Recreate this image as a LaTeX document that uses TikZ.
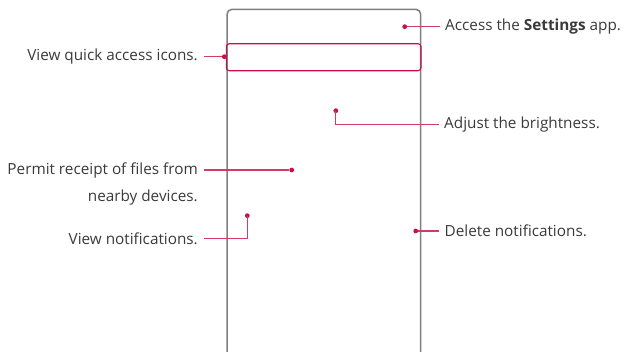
\documentclass[tikz,border=0pt]{standalone}
\usepackage{fontspec}
\setmainfont{Open Sans}
\usetikzlibrary{calc}
\definecolor{lgred}{HTML}{C8104A}
\definecolor{wire}{HTML}{D23B63}
\definecolor{frame}{HTML}{7F7F7F}
\definecolor{ink}{HTML}{3A3A3A}
\newcommand{\callout}{\fontsize{15.3}{25}\selectfont}

\begin{document}
\begin{tikzpicture}[x=1pt,y=-1pt,font=\callout,
  phone/.style={frame,line width=1.5pt,rounded corners=5},
  quickbar/.style={lgred,line width=1.1pt,rounded corners=3},
  pin/.style={circle,fill=lgred,inner sep=0,minimum size=4.8pt},
  lead/.style={wire,line width=1.1pt},
  tagr/.style={anchor=west,inner xsep=5.5pt,inner ysep=0,text=ink},
  tagl/.style={anchor=east,inner xsep=5.5pt,inner ysep=0,text=ink,align=right}]
\useasboundingbox (0,0) rectangle (626,351);
% phone outline, open at the bottom
\draw[phone] (227,352) -- (227,9.3) -- (420.7,9.3) -- (420.7,352);
\draw[quickbar] (226.3,43.7) rectangle (421,70.7);
% pins
\node[pin] (settings) at (404.7,26.7) {};
\node[pin] (quick) at (224.3,56.7) {};
\node[pin] (bright) at (335.8,110.7) {};
\node[pin] (share) at (291.7,170) {};
\node[pin] (notif) at (247.3,215.7) {};
\node[pin] (delete) at (415.7,231) {};
% texts
\node[tagr] (tsettings) at (439.5,26.7) {Access the \textbf{Settings} app.};
\node[tagl] (tquick) at (203.5,56.7) {View quick access icons.};
\node[tagr] (tbright) at (438.5,124.3) {Adjust the brightness.};
\node[tagl] (tshare) at (203.5,170) {Permit receipt of files from};
\node[tagl,anchor=north east,inner ysep=0] (tshare2) at ($(tshare.south east)+(0,12)$) {nearby devices.};
\node[tagl] (tnotif) at (203.5,238.3) {View notifications.};
\node[tagr] (tdelete) at (439,231) {Delete notifications.};
% leaders
\draw[lead] (settings) -- (tsettings.west);
\draw[lead] (quick) -- (tquick.east);
\draw[lead] (bright.center) |- (tbright.west);
\draw[lead] (share) -- (tshare.east);
\draw[lead] (notif.center) |- (tnotif.east);
\draw[lead] (delete) -- (tdelete.west);
\end{tikzpicture}
\end{document}
